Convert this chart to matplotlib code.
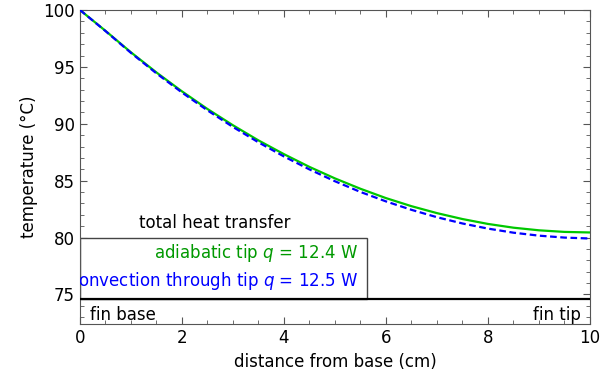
import matplotlib
matplotlib.use("Agg")
import matplotlib.pyplot as plt
from matplotlib.patches import Rectangle
from matplotlib.ticker import MultipleLocator

# distance from base (cm)
x_cm = [0, 0.5, 1, 1.5, 2, 2.5, 3, 3.5, 4, 4.5, 5, 5.5, 6, 6.5, 7, 7.5, 8, 8.5, 9, 9.5, 10]
# adiabatic tip temperature (°C)
t_adiabatic = [100.00, 98.17, 96.28, 94.51, 92.85, 91.30, 89.87, 88.54, 87.33, 86.21, 85.20,
               84.29, 83.47, 82.76, 82.15, 81.63, 81.20, 80.87, 80.64, 80.50, 80.45]
# convection through tip temperature (°C)
t_convection = [100.00, 98.15, 96.23, 94.43, 92.75, 91.18, 89.72, 88.37, 87.13, 85.99, 84.95,
                84.01, 83.18, 82.44, 81.79, 81.24, 80.79, 80.43, 80.17, 80.00, 79.92]

fin_level = 74.58
box_right = 5.63
box_top = 80.0

labels = ["adiabatic tip $q$ = 12.4 W", "convection through tip $q$ = 12.5 W"]

fig = plt.figure(figsize=(6, 3.75), dpi=100)
ax = fig.add_axes([0.1333, 0.1352, 0.85, 0.8381])

ax.plot(x_cm, t_adiabatic, color="#00c800", lw=1.6, zorder=3)
ax.plot(x_cm, t_convection, color="#0000ff", lw=1.6, ls=(0, (3, 1.6)), zorder=4)

ax.axhline(fin_level, color="black", lw=1.6, zorder=3)
ax.add_patch(Rectangle((0, fin_level), box_right, box_top - fin_level,
                       facecolor="white", edgecolor="#444444", lw=1.0, zorder=2))

fs = 12
ax.text(2.65, 81.27, "total heat transfer", ha="center", va="center", fontsize=fs, color="black")
t1 = ax.text(5.45, 78.65, labels[0], ha="right", va="center", fontsize=fs, color="#009900", zorder=5)
t2 = ax.text(5.45, 76.17, labels[1], ha="right", va="center", fontsize=fs, color="#0000ff", zorder=5)
t2.set_clip_on(True)
ax.text(0.2, 73.2, "fin base", ha="left", va="center", fontsize=fs, color="black")
ax.text(9.82, 73.2, "fin tip", ha="right", va="center", fontsize=fs, color="black")

ax.set_xlim(0, 10)
ax.set_ylim(72.38, 100)
ax.set_yticks([75, 80, 85, 90, 95, 100])
ax.set_xticks([0, 2, 4, 6, 8, 10])
ax.xaxis.set_minor_locator(MultipleLocator(0.5))
ax.yaxis.set_minor_locator(MultipleLocator(1))
ax.tick_params(which="both", direction="in", top=True, right=True, color="#555555", labelsize=fs)
ax.tick_params(which="major", length=5)
ax.tick_params(which="minor", length=3)
for s in ax.spines.values():
    s.set_color("#555555")
ax.set_xlabel("distance from base (cm)", fontsize=fs)
ax.set_ylabel("temperature (°C)", fontsize=fs)

fig.savefig("out.png", dpi=100)
